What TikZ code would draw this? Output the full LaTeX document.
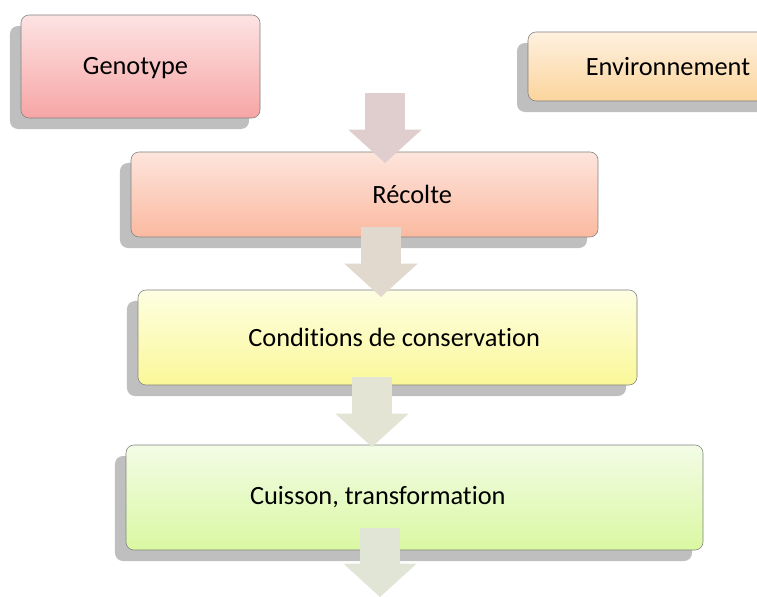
\documentclass[tikz,border=0pt]{standalone}
\usepackage{fontspec}
\setmainfont[Ligatures=NoCommon]{Carlito}
\usetikzlibrary{arrows.meta,shadows}

\definecolor{genotop}{HTML}{FDE3E3}
\definecolor{genobot}{HTML}{F7A5A5}
\definecolor{envtop}{HTML}{FEF1DF}
\definecolor{envbot}{HTML}{FBD49C}
\definecolor{rectop}{HTML}{FDE5DC}
\definecolor{recbot}{HTML}{FBB9A0}
\definecolor{contop}{HTML}{FEFEE2}
\definecolor{conbot}{HTML}{FAF898}
\definecolor{cuitop}{HTML}{F2FCE6}
\definecolor{cuibot}{HTML}{DAF8A2}
\definecolor{arrone}{HTML}{E0CECE}
\definecolor{arrtwo}{HTML}{E2D9CE}
\definecolor{arrthree}{HTML}{E4E4D4}
\definecolor{arrfour}{HTML}{E0E5D6}

\begin{document}
\begin{tikzpicture}[x=0.03cm,y=-0.03cm,font=\fontsize{22.5}{27}\selectfont,
	stagebox/.style={rectangle,rounded corners=0.24cm,draw=black!50,line width=0.5pt,inner sep=0pt,drop shadow={shadow xshift=-0.33cm,shadow yshift=-0.33cm,fill=black!25,opacity=1}},
	flowarrow/.style={line width=1.2cm,-{Triangle[width=2.2cm,length=1cm,line width=0pt]}}]
		\useasboundingbox (0,0) rectangle (757,597);
		\clip (0,0) rectangle (757,597);
		\node[stagebox,top color=genotop,bottom color=genobot,minimum width=7.17cm,minimum height=3.09cm,label={[xshift=-0.15cm,yshift=-0.05cm]center:Genotype}] (genotype) at (140.5,66.5) {};
		\node[stagebox,top color=envtop,bottom color=envbot,minimum width=8.4cm,minimum height=2.07cm,label={center:Environnement}] (environ) at (668,66.5) {};
		\node[stagebox,top color=rectop,bottom color=recbot,minimum width=14.01cm,minimum height=2.55cm,label={[xshift=1.43cm]center:Récolte}] (recolte) at (364.5,194.5) {};
		\node[stagebox,top color=contop,bottom color=conbot,minimum width=14.97cm,minimum height=2.85cm,label={[xshift=0.2cm]center:Conditions de conservation}] (conserv) at (387.5,337.5) {};
		\node[stagebox,top color=cuitop,bottom color=cuibot,minimum width=17.31cm,minimum height=3.15cm,label={[xshift=-1.1cm]center:Cuisson, transformation}] (cuisson) at (414.5,497.5) {};
		%\draw[ultra thick,->] (genotype) -- (recolte);
		\coordinate (start1) at (385,93);
		\coordinate (tip1) at (385,163);
		\coordinate (start2) at (381,227);
		\coordinate (tip2) at (381,297);
		\coordinate (start3) at (372,377);
		\coordinate (tip3) at (372,447);
		\coordinate (start4) at (380,528);
		\coordinate (tip4) at (380,597);
		\draw[flowarrow,arrone] (start1) -- (tip1);
		\draw[flowarrow,arrtwo] (start2) -- (tip2);
		\draw[flowarrow,arrthree] (start3) -- (tip3);
		\draw[flowarrow,arrfour] (start4) -- (tip4);
	\end{tikzpicture}
\end{document}
